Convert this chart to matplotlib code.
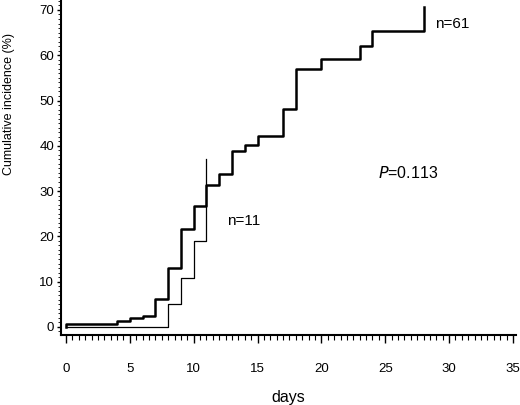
from matplotlib import pyplot as plt
from matplotlib.ticker import MultipleLocator

plt.rcParams['font.family'] = ['Liberation Sans', 'DejaVu Sans']

# n=61 group (thick line)
days_61 = [0, 0, 4, 5, 6, 7, 8, 9, 10, 11, 12, 13, 14, 15, 17, 18, 20, 23, 24, 28]
inc_61 = [0, 0.7, 1.2, 1.9, 2.5, 6.2, 13.0, 21.6, 26.7, 31.3, 33.7, 38.9, 40.2,
          42.2, 48.1, 57.0, 59.1, 62.1, 65.4, 70.6]

# n=11 group (thin line)
days_11 = [0, 8, 9, 10, 11]
inc_11 = [0, 5.0, 10.7, 19.0, 37.1]

xticks = [0, 5, 10, 15, 20, 25, 30, 35]
yticks = [0, 10, 20, 30, 40, 50, 60, 70]

fig = plt.figure(figsize=(5.2, 4.05), dpi=100)
ax = fig.add_axes([0.1173, 0.173, 0.8750, 0.827])

ax.step(days_11, inc_11, where='post', color='black', linewidth=0.9)
ax.step(days_61, inc_61, where='post', color='black', linewidth=1.8)

ax.set_xlim(-0.39, 35.24)
ax.set_ylim(-1.77, 72.2)
ax.set_xticks(xticks)
ax.set_yticks(yticks)
ax.xaxis.set_minor_locator(MultipleLocator(0.5))
ax.yaxis.set_minor_locator(MultipleLocator(1))

for s in ['top', 'right']:
    ax.spines[s].set_visible(False)
ax.spines['left'].set_linewidth(1.5)
ax.spines['bottom'].set_linewidth(1.5)

ax.tick_params(axis='x', which='major', length=6, width=1, pad=14, labelsize=9.5)
ax.tick_params(axis='x', which='minor', length=3.5, width=0.8)
ax.tick_params(axis='y', which='major', length=3, width=1, pad=2, labelsize=9.5)
ax.tick_params(axis='y', which='minor', length=2, width=0.6)

ax.set_xlabel('days', fontsize=11.5, labelpad=11)
ax.set_ylabel('Cumulative incidence (%)', fontsize=9)
ax.yaxis.set_label_coords(-0.102, 0.69)

ax.text(28.9, 66.8, 'n=61', fontsize=11, ha='left', va='center')
ax.text(12.6, 23.5, 'n=11', fontsize=11, ha='left', va='center')
ax.text(26.8, 34.1, r'$\it{P}$=0.113', fontsize=11.5, ha='center', va='center')

plt.savefig('out.png', dpi=100)
